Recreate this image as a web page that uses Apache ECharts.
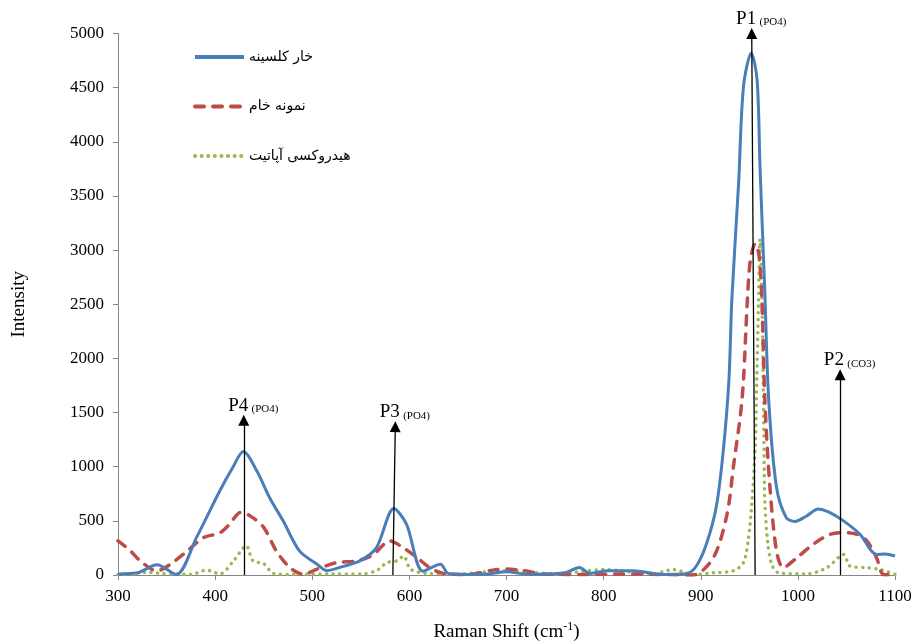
<!DOCTYPE html>
<html>
<head>
<meta charset="UTF-8">
<title>Raman Shift</title>
<script src="https://cdn.jsdelivr.net/npm/echarts@6/dist/echarts.min.js"></script>
<style>
  html, body { margin: 0; padding: 0; background: #fff; }
  #chart { width: 912px; height: 644px; }
</style>
</head>
<body>
<div id="chart"></div>
<script>
// series names (legend)
var names = ['خار کلسینه', 'نمونه خام', 'هیدروکسی آپاتیت'];

// خار کلسینه (blue, solid)
var calcX = [300, 320, 340, 360, 381, 405, 418, 429, 443, 456, 470, 487, 505, 515, 532, 549, 566, 584, 597, 614, 632, 640, 660, 680, 700, 723, 760, 775, 786, 805, 830, 860, 886, 896, 906, 916, 923, 929, 932, 939, 944, 952, 958, 961, 966, 970, 978, 988, 997, 1009, 1021, 1031, 1047, 1064, 1081, 1090, 1100];
var calcY = [10, 20, 95, 5, 350, 780, 990, 1140, 960, 715, 500, 220, 100, 40, 80, 130, 250, 615, 470, 35, 100, 15, 5, 10, 30, 5, 20, 70, 15, 40, 40, 5, 15, 90, 290, 630, 1130, 1800, 2540, 3620, 4510, 4820, 4575, 3770, 2600, 1610, 810, 530, 495, 545, 610, 585, 500, 375, 190, 195, 175];

// نمونه خام (red, dashed)
var rawX = [300, 312, 323, 340, 354, 371, 388, 405, 415, 426, 436, 450, 463, 477, 491, 505, 525, 546, 563, 580, 594, 608, 621, 635, 660, 686, 700, 714, 740, 780, 820, 860, 892, 913, 927, 934, 941, 944, 948, 951, 956, 960, 963, 966, 971, 978, 985, 999, 1016, 1033, 1047, 1061, 1071, 1081, 1088, 1100];
var rawY = [315, 230, 130, 37, 100, 220, 345, 390, 470, 577, 546, 440, 222, 68, 5, 55, 114, 130, 190, 315, 250, 160, 68, 15, 5, 45, 55, 45, 10, 5, 10, 5, 0, 160, 560, 1025, 1490, 1800, 2540, 2900, 3060, 2950, 2530, 1610, 840, 220, 68, 160, 285, 375, 392, 375, 315, 160, 5, 0];

// هیدروکسی آپاتیت (green, dotted)
var hapX = [300, 315, 330, 345, 360, 375, 391, 405, 419, 432, 439, 450, 460, 480, 520, 550, 566, 577, 587, 594, 601, 617, 650, 700, 750, 800, 850, 872, 892, 913, 934, 944, 949, 952.5, 956, 957.7, 959.5, 961, 963, 964.6, 966, 969, 973, 980, 1009, 1030, 1047, 1054, 1071, 1085, 1100];
var hapY = [5, 10, 25, 15, 10, 5, 45, 10, 130, 270, 130, 105, 15, 5, 10, 10, 40, 115, 130, 175, 55, 15, 10, 40, 10, 50, 10, 50, 5, 20, 40, 115, 330, 650, 1180, 1800, 2540, 3100, 2540, 1610, 690, 300, 100, 20, 10, 68, 190, 80, 68, 50, 5];

// peak annotations: [label, group, x bottom, x top, y top]
var peaks = [
  ['P1', '(PO4)', 956, 952.5, 5000],
  ['P2', '(CO3)', 1043.5, 1043.5, 1850],
  ['P3', '(PO4)', 583, 585.5, 1370],
  ['P4', '(PO4)', 429.5, 429.5, 1430]
];

function pairs(xs, ys) {
  var out = [];
  for (var i = 0; i < xs.length; i++) out.push([xs[i], ys[i]]);
  return out;
}

var serif = '"Liberation Serif", "Times New Roman", serif';

var arrowData = [];
peaks.forEach(function (p) {
  arrowData.push([
    { coord: [p[2], 0] },
    {
      coord: [p[3], p[4]],
      label: {
        show: true,
        position: 'end',
        distance: 5,
        padding: [0, 0, 0, 19],
        formatter: '{p|' + p[0] + '} {g|' + p[1] + '}',
        rich: {
          p: { fontFamily: serif, fontSize: 19, color: '#000' },
          g: { fontFamily: serif, fontSize: 11, color: '#000', padding: [7, 0, 0, 0] }
        }
      }
    }
  ]);
});

var chart = echarts.init(document.getElementById('chart'));

chart.setOption({
  animation: false,
  grid: { left: 118, right: 17, top: 33.5, bottom: 69, containLabel: false, outerBoundsMode: 'none' },
  legend: {
    orient: 'vertical',
    left: 193,
    top: 50,
    padding: 0,
    itemWidth: 49,
    itemHeight: 14,
    itemGap: 35.5,
    itemStyle: { color: 'rgba(0,0,0,0)', borderWidth: 0, opacity: 0 },
    lineStyle: { width: 4 },
    textStyle: { fontFamily: '"DejaVu Sans", sans-serif', fontSize: 14, color: '#000' },
    data: names
  },
  xAxis: {
    type: 'value',
    min: 300,
    max: 1100,
    interval: 100,
    name: '{a|Raman Shift (cm}{b|-1}{a|)}',
    nameLocation: 'middle',
    nameGap: 46,
    nameTextStyle: {
      rich: {
        a: { fontFamily: serif, fontSize: 19, color: '#000' },
        b: { fontFamily: serif, fontSize: 12, color: '#000', padding: [0, 0, 10, 0] }
      }
    },
    axisLine: { lineStyle: { color: '#868686', width: 1 } },
    axisTick: { show: true, length: 5, lineStyle: { color: '#868686' } },
    axisLabel: {
      fontFamily: serif, fontSize: 17, color: '#000', margin: 13,
      formatter: function (v) { return String(v); }
    },
    splitLine: { show: false }
  },
  yAxis: {
    type: 'value',
    min: 0,
    max: 5000,
    interval: 500,
    name: 'Intensity',
    nameLocation: 'middle',
    nameRotate: 90,
    nameGap: 89,
    nameTextStyle: { fontFamily: serif, fontSize: 19, color: '#000' },
    axisLine: { show: true, lineStyle: { color: '#868686', width: 1 } },
    axisTick: { show: true, length: 5, lineStyle: { color: '#868686' } },
    axisLabel: {
      fontFamily: serif, fontSize: 17, color: '#000', margin: 14,
      formatter: function (v) { return String(v); }
    },
    splitLine: { show: false }
  },
  series: [
    {
      name: names[0],
      type: 'line',
      data: pairs(calcX, calcY),
      symbol: 'none',
      smooth: 0.3,
      z: 3,
      itemStyle: { color: '#4a7ebb' },
      lineStyle: { color: '#4a7ebb', width: 3 },
      markLine: {
        silent: true,
        symbol: ['none', 'triangle'],
        symbolSize: 11,
        lineStyle: { color: '#000', width: 1.3, type: 'solid' },
        label: { show: false },
        data: arrowData
      }
    },
    {
      name: names[1],
      type: 'line',
      data: pairs(rawX, rawY),
      symbol: 'none',
      smooth: 0.3,
      z: 2,
      itemStyle: { color: '#be4b48' },
      lineStyle: { color: '#be4b48', width: 3.5, type: [9, 9], cap: 'round' }
    },
    {
      name: names[2],
      type: 'line',
      data: pairs(hapX, hapY),
      symbol: 'none',
      smooth: 0.3,
      z: 1,
      itemStyle: { color: '#98b954' },
      lineStyle: { color: '#98b954', width: 3.5, type: [0.1, 6.5], cap: 'round' }
    }
  ]
});
</script>
</body>
</html>
